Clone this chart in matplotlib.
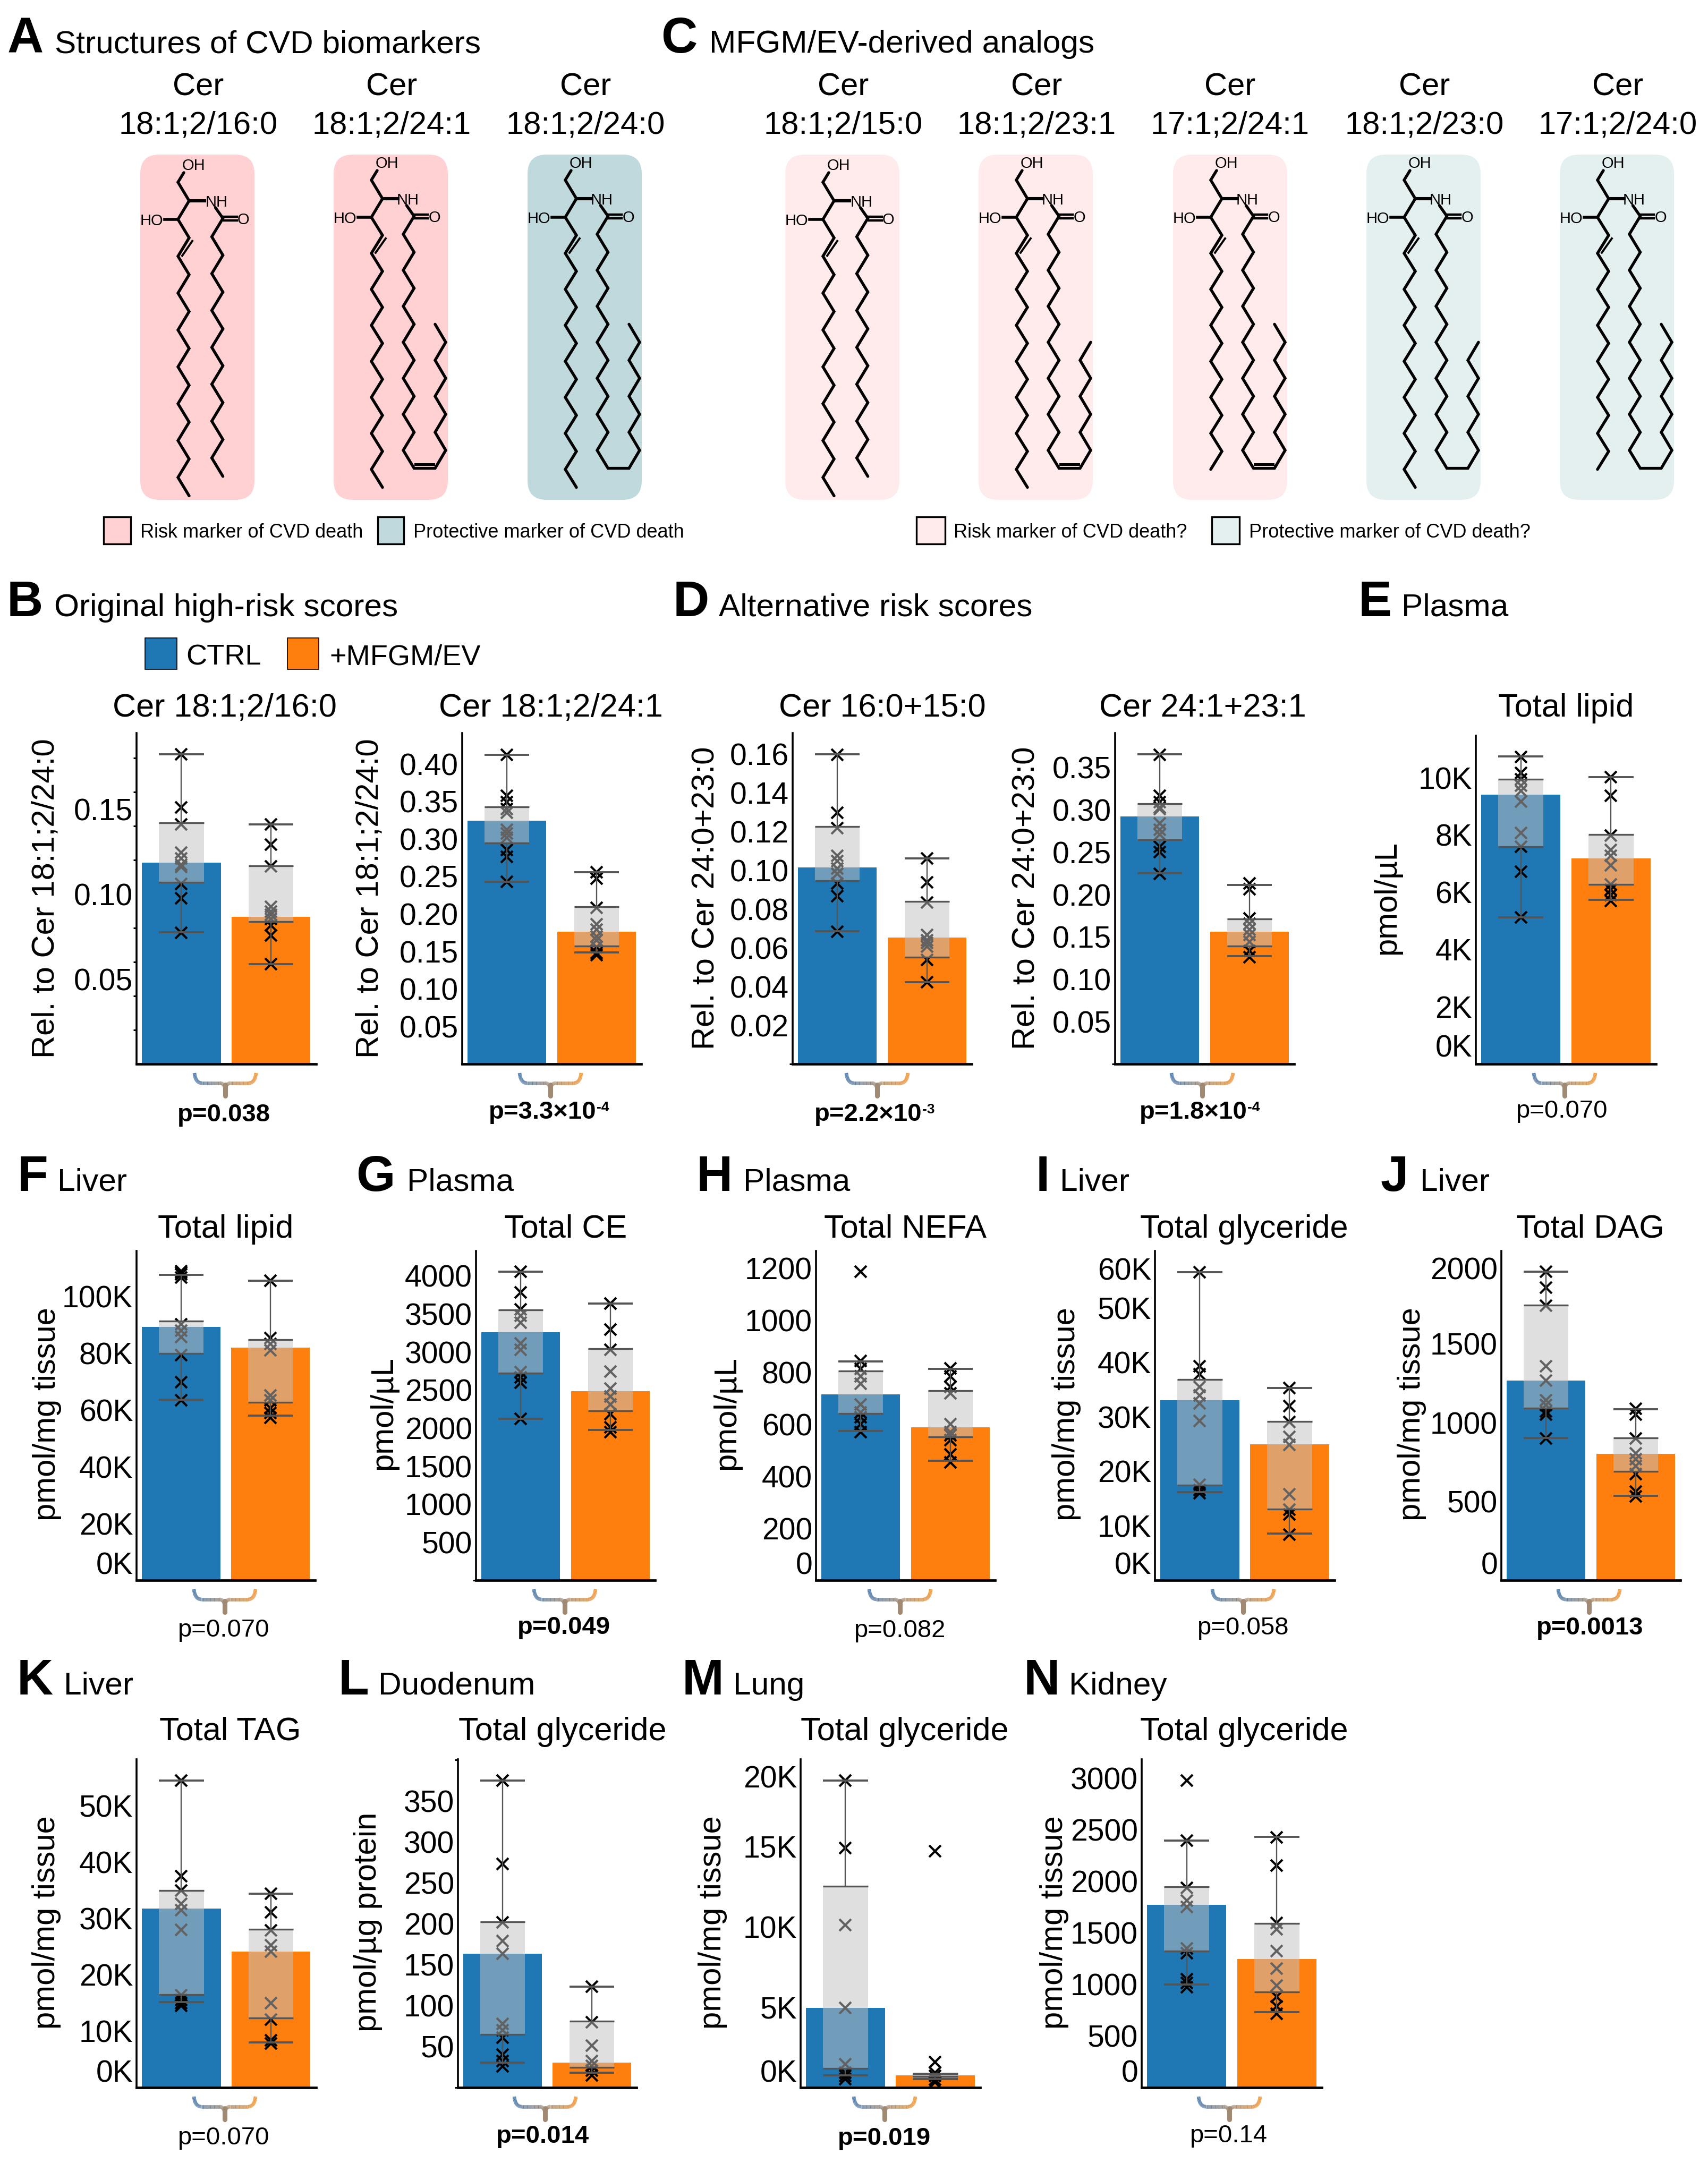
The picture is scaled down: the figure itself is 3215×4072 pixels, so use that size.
import numpy as np
import matplotlib
matplotlib.use('Agg')
import matplotlib.pyplot as plt
from matplotlib.collections import LineCollection
from matplotlib.colors import to_rgb
from matplotlib.patches import FancyBboxPatch, Rectangle
from matplotlib.transforms import ScaledTranslation

plt.rcParams['font.family'] = ['Liberation Sans', 'DejaVu Sans']

W, H = 3216, 4072
BLUE, ORANGE = '#1f77b4', '#ff7f0e'
LINE = '#555555'
groups = ['CTRL', '+MFGM/EV']

# bars: [ctrl, mfgm], box: [whisker low, q1, q3, whisker high]
b1_bars = [0.1184, 0.0866]
b1_ctrl_box = [0.0775, 0.1069, 0.1419, 0.1822]
b1_mfgm_box = [0.0587, 0.0838, 0.1166, 0.1411]
b1_ctrl = [0.1822, 0.1509, 0.1409, 0.1244, 0.1209, 0.1172, 0.1160, 0.1059, 0.0975, 0.0772]
b1_mfgm = [0.1408, 0.1291, 0.1162, 0.0925, 0.0897, 0.0878, 0.0853, 0.0816, 0.0756, 0.0586]

b2_bars = [0.324, 0.1766]
b2_ctrl_box = [0.243, 0.2947, 0.343, 0.4124]
b2_mfgm_box = [0.1488, 0.1574, 0.2096, 0.2555]
b2_ctrl = [0.4124, 0.3574, 0.349, 0.340, 0.335, 0.3124, 0.3077, 0.3014, 0.2856, 0.276, 0.2426]
b2_mfgm = [0.2555, 0.2474, 0.208, 0.1866, 0.1794, 0.170, 0.165, 0.1555, 0.148, 0.145]

d1_bars = [0.1015, 0.0652]
d1_ctrl_box = [0.0685, 0.0946, 0.1224, 0.1598]
d1_mfgm_box = [0.0422, 0.0552, 0.0839, 0.1061]
d1_ctrl = [0.1596, 0.1296, 0.1217, 0.1074, 0.1046, 0.1009, 0.0981, 0.0931, 0.0865, 0.0683]
d1_mfgm = [0.1059, 0.0937, 0.0833, 0.0667, 0.0639, 0.0624, 0.0606, 0.0537, 0.0422]

d2_bars = [0.2924, 0.1559]
d2_ctrl_box = [0.2254, 0.2644, 0.3072, 0.3657]
d2_mfgm_box = [0.1275, 0.1394, 0.1712, 0.2114]
d2_ctrl = [0.3653, 0.3165, 0.3093, 0.303, 0.3008, 0.2839, 0.2767, 0.2712, 0.2564, 0.25, 0.2242]
d2_mfgm = [0.2131, 0.2064, 0.1716, 0.1653, 0.1589, 0.1525, 0.1441, 0.1335, 0.1258]

e_bars = [9411, 7180]
e_ctrl_box = [5125, 7581, 9937, 10739]
e_mfgm_box = [5739, 6266, 8008, 10025]
e_ctrl = [10727, 10163, 9950, 9724, 9536, 9160, 8070, 7594, 6717, 5125]
e_mfgm = [10025, 9373, 7970, 7469, 7281, 6942, 6278, 6090, 5902, 5689]

f_bars = [89240, 81990]
f_ctrl_box = [63620, 79950, 91290, 107500]
f_mfgm_box = [57950, 62600, 84710, 105460]
f_ctrl = [108860, 108400, 107730, 106600, 90150, 87885, 85620, 79380, 69740, 63500]
f_mfgm = [105460, 85390, 83350, 81080, 65200, 63500, 60670, 58970, 57270]

g_bars = [3257, 2483]
g_ctrl_box = [2123, 2720, 3553, 4052]
g_mfgm_box = [1975, 2225, 3046, 3638]
g_ctrl = [4052, 3782, 3557, 3473, 3388, 3113, 3029, 2733, 2669, 2593, 2119]
g_mfgm = [3634, 3295, 3029, 2741, 2521, 2415, 2310, 2183, 2013, 1950]

h_bars = [714, 589]
h_ctrl_box = [574, 642, 804, 842]
h_mfgm_box = [459, 552, 729, 812]
h_ctrl = [1186, 843, 812, 785, 756, 676, 645, 626, 601, 570]
h_mfgm = [814, 785, 744, 719, 601, 570, 558, 540, 484, 453]

i_bars = [33040, 24940]
i_ctrl_box = [16190, 17490, 36820, 56560]
i_mfgm_box = [8570, 13060, 29200, 35280]
i_ctrl = [56560, 39300, 37820, 35460, 33980, 32500, 29250, 17550, 16550, 15960]
i_mfgm = [35340, 32030, 29080, 26300, 24820, 15780, 13000, 12115, 8390]

j_bars = [1265, 802]
j_ctrl_box = [904, 1090, 1743, 1955]
j_mfgm_box = [535, 690, 904, 1084]
j_ctrl = [1955, 1857, 1741, 1357, 1265, 1143, 1112, 1072, 1051, 898]
j_mfgm = [1088, 1051, 898, 806, 769, 725, 674, 561, 531]

k_bars = [31770, 24170]
k_ctrl_box = [15200, 16460, 35030, 54510]
k_mfgm_box = [8000, 12400, 28110, 34400]
k_ctrl = [54510, 37540, 34970, 32680, 31540, 28060, 16400, 15540, 14970, 14570]
k_mfgm = [34400, 31140, 27940, 25260, 24110, 14970, 12110, 8400, 7830]

l_bars = [163.7, 30.2]
l_ctrl_box = [30.2, 64.8, 202.5, 374.8]
l_mfgm_box = [18.4, 24.7, 80.9, 122.9]
l_ctrl = [374.8, 272.8, 201.4, 179, 163.3, 77.7, 69.9, 60.8, 40.4, 32.6, 25.9]
l_mfgm = [122.9, 79.7, 51, 32.6, 26.7, 20.8, 14.9]

m_bars = [4960, 760]
m_ctrl_box = [760, 1200, 12520, 19080]
m_mfgm_box = [540, 680, 860, 860]
m_ctrl = [19080, 14900, 10100, 4940, 1440, 940, 740, 540]
m_mfgm = [14700, 1580, 940, 740, 500, 340]

n_bars = [1772, 1248]
n_ctrl_box = [998, 1326, 1949, 2392]
n_mfgm_box = [730, 929, 1591, 2433]
n_ctrl = [2975, 2392, 1937, 1815, 1753, 1347, 1301, 1051, 1014, 973]
n_mfgm = [2423, 2152, 1597, 1535, 1322, 1154, 989, 880, 786, 717]

REL = 'Rel. to Cer 18:1;2/24:0'
REL2 = 'Rel. to Cer 24:0+23:0'
MGT = 'pmol/mg tissue'
ROW1, ROW2, ROW3 = (1380, 2003), (2355, 2975), (3311.5, 3930)

panels = [
    dict(box=(257, 594.5), row=ROW1, ymax=0.1947, bars=b1_bars, cb=b1_ctrl_box, mb=b1_mfgm_box, cp=b1_ctrl, mp=b1_mfgm,
         ticks=[0.02, 0.04, 0.06, 0.08, 0.10, 0.12, 0.14, 0.16, 0.18], lv=[0.05, 0.10, 0.15], ll=['0.05', '0.10', '0.15'],
         title='Cer 18:1;2/16:0', tx=423, tb=1349, yl=REL, ylx=86, yly=1691, p='p=0.038', bold=True, px=422, pb=2111, bx=424),
    dict(box=(870, 1207), row=ROW1, ymax=0.4412, bars=b2_bars, cb=b2_ctrl_box, mb=b2_mfgm_box, cp=b2_ctrl, mp=b2_mfgm,
         ticks=[0.05, 0.10, 0.15, 0.20, 0.25, 0.30, 0.35, 0.40], lv=[0.05, 0.10, 0.15, 0.20, 0.25, 0.30, 0.35, 0.40],
         ll=['0.05', '0.10', '0.15', '0.20', '0.25', '0.30', '0.35', '0.40'],
         title='Cer 18:1;2/24:1', tx=1037, tb=1349, yl=REL, ylx=696, yly=1691,
         p='p=3.3×10', sup='-4', bold=True, px=1038, pb=2106, bx=1036),
    dict(box=(1492, 1829), row=ROW1, ymax=0.1707, bars=d1_bars, cb=d1_ctrl_box, mb=d1_mfgm_box, cp=d1_ctrl, mp=d1_mfgm,
         ticks=[0, 0.02, 0.04, 0.06, 0.08, 0.10, 0.12, 0.14, 0.16], lv=[0.02, 0.04, 0.06, 0.08, 0.10, 0.12, 0.14, 0.16],
         ll=['0.02', '0.04', '0.06', '0.08', '0.10', '0.12', '0.14', '0.16'],
         title='Cer 16:0+15:0', tx=1661, tb=1349, yl=REL2, ylx=1328, yly=1691,
         p='p=2.2×10', sup='-3', bold=True, px=1651, pb=2110, bx=1651),
    dict(box=(2099, 2436), row=ROW1, ymax=0.3907, bars=d2_bars, cb=d2_ctrl_box, mb=d2_mfgm_box, cp=d2_ctrl, mp=d2_mfgm,
         ticks=[0, 0.05, 0.10, 0.15, 0.20, 0.25, 0.30, 0.35], lv=[0.05, 0.10, 0.15, 0.20, 0.25, 0.30, 0.35],
         ll=['0.05', '0.10', '0.15', '0.20', '0.25', '0.30', '0.35'],
         title='Cer 24:1+23:1', tx=2264, tb=1349, yl=REL2, ylx=1931, yly=1691,
         p='p=1.8×10', sup='-4', bold=True, px=2263, pb=2106, bx=2263),
    dict(box=(2778, 3117), row=(1385, 2003), ymax=11466, bars=e_bars, cb=e_ctrl_box, mb=e_mfgm_box, cp=e_ctrl, mp=e_mfgm,
         ticks=[0, 2000, 4000, 6000, 8000, 10000], lv=[0, 2000, 4000, 6000, 8000, 10000],
         ll=['0K', '2K', '4K', '6K', '8K', '10K'], lift={0: 34},
         title='Total lipid', tx=2948, tb=1349, yl='pmol/µL', ylx=2611, yly=1690, p='p=0.070', bold=False, px=2939, pb=2104, bx=2945),
    dict(box=(257, 593), row=ROW2, ymax=116000, bars=f_bars, cb=f_ctrl_box, mb=f_mfgm_box, cp=f_ctrl, mp=f_mfgm,
         ticks=[0, 20000, 40000, 60000, 80000, 100000], lv=[0, 20000, 40000, 60000, 80000, 100000],
         ll=['0K', '20K', '40K', '60K', '80K', '100K'], lift={0: 33},
         title='Total lipid', tx=425, tb=2330, yl=MGT, ylx=88, yly=2662, p='p=0.070', bold=False, px=420, pb=3081, bx=423),
    dict(box=(896, 1233), row=ROW2, ymax=4327, bars=g_bars, cb=g_ctrl_box, mb=g_mfgm_box, cp=g_ctrl, mp=g_mfgm,
         ticks=[0, 500, 1000, 1500, 2000, 2500, 3000, 3500, 4000], lv=[500, 1000, 1500, 2000, 2500, 3000, 3500, 4000],
         ll=['500', '1000', '1500', '2000', '2500', '3000', '3500', '4000'],
         title='Total CE', tx=1065, tb=2330, yl='pmol/µL', ylx=722, yly=2660, p='p=0.049', bold=True, px=1061, pb=3076, bx=1063),
    dict(box=(1536, 1873), row=ROW2, ymax=1266, bars=h_bars, cb=h_ctrl_box, mb=h_mfgm_box, cp=h_ctrl, mp=h_mfgm,
         ticks=[0, 200, 400, 600, 800, 1000, 1200], lv=[0, 200, 400, 600, 800, 1000, 1200],
         ll=['0', '200', '400', '600', '800', '1000', '1200'], lift={0: 33},
         title='Total NEFA', tx=1704, tb=2330, yl='pmol/µL', ylx=1368, yly=2660, p='p=0.082', bold=False, px=1693, pb=3082, bx=1694),
    dict(box=(2174, 2512), row=ROW2, ymax=60460, bars=i_bars, cb=i_ctrl_box, mb=i_mfgm_box, cp=i_ctrl, mp=i_mfgm,
         ticks=[0, 10000, 20000, 30000, 40000, 50000, 60000], lv=[0, 10000, 20000, 30000, 40000, 50000, 60000],
         ll=['0K', '10K', '20K', '30K', '40K', '50K', '60K'], lift={0: 33, 60000: -29},
         title='Total glyceride', tx=2342, tb=2330, yl=MGT, ylx=2008, yly=2662, p='p=0.058', bold=False, px=2339, pb=3077, bx=2340),
    dict(box=(2826, 3163), row=ROW2, ymax=2088, bars=j_bars, cb=j_ctrl_box, mb=j_mfgm_box, cp=j_ctrl, mp=j_mfgm,
         ticks=[0, 500, 1000, 1500, 2000], lv=[0, 500, 1000, 1500, 2000],
         ll=['0', '500', '1000', '1500', '2000'], lift={0: 33, 2000: -6},
         title='Total DAG', tx=2993, tb=2330, yl=MGT, ylx=2658, yly=2662, p='p=0.0013', bold=True, px=2993, pb=3077, bx=2991),
    dict(box=(257, 594.5), row=ROW3, ymax=58340, bars=k_bars, cb=k_ctrl_box, mb=k_mfgm_box, cp=k_ctrl, mp=k_mfgm,
         ticks=[0, 10000, 20000, 30000, 40000, 50000], lv=[0, 10000, 20000, 30000, 40000, 50000],
         ll=['0K', '10K', '20K', '30K', '40K', '50K'], lift={0: 32},
         title='Total TAG', tx=433, tb=3276, yl=MGT, ylx=88, yly=3619, p='p=0.070', bold=False, px=420, pb=4037, bx=423),
    dict(box=(862, 1198), row=ROW3, ymax=401, bars=l_bars, cb=l_ctrl_box, mb=l_mfgm_box, cp=l_ctrl, mp=l_mfgm,
         ticks=[0, 50, 100, 150, 200, 250, 300, 350, 400], lv=[50, 100, 150, 200, 250, 300, 350],
         ll=['50', '100', '150', '200', '250', '300', '350'],
         title='Total glyceride', tx=1059, tb=3276, yl='pmol/µg protein', ylx=692, yly=3618, p='p=0.014', bold=True, px=1022, pb=4034, bx=1026),
    dict(box=(1507, 1845), row=ROW3, ymax=20420, bars=m_bars, cb=m_ctrl_box, mb=m_mfgm_box, cp=m_ctrl, mp=m_mfgm,
         ticks=[0, 5000, 10000, 15000, 20000], lv=[0, 5000, 10000, 15000, 20000],
         ll=['0K', '5K', '10K', '15K', '20K'], lift={0: 32, 20000: -20},
         title='Total glyceride', tx=1703, tb=3276, yl=MGT, ylx=1342, yly=3619, p='p=0.019', bold=True, px=1665, pb=4038, bx=1665),
    dict(box=(2149, 2488), row=ROW3, ymax=3185, bars=n_bars, cb=n_ctrl_box, mb=n_mfgm_box, cp=n_ctrl, mp=n_mfgm,
         ticks=[0, 500, 1000, 1500, 2000, 2500, 3000], lv=[0, 500, 1000, 1500, 2000, 2500, 3000],
         ll=['0', '500', '1000', '1500', '2000', '2500', '3000'], lift={0: 32},
         title='Total glyceride', tx=2342, tb=3276, yl=MGT, ylx=1985, yly=3619, p='p=0.14', bold=False, px=2312, pb=4033, bx=2314),
]

# letter, letter x, heading, heading x, baseline
headings = [
    ('A', 14, 'Structures of CVD biomarkers', 103, 99),
    ('C', 1244, 'MFGM/EV-derived analogs', 1335, 99),
    ('B', 13, 'Original high-risk scores', 102, 1160),
    ('D', 1267, 'Alternative risk scores', 1353, 1160),
    ('E', 2557, 'Plasma', 2638, 1160),
    ('F', 33, 'Liver', 108, 2242),
    ('G', 670, 'Plasma', 766, 2242),
    ('H', 1311, 'Plasma', 1399, 2242),
    ('I', 1950, 'Liver', 1995, 2242),
    ('J', 2599, 'Liver', 2673, 2242),
    ('K', 32, 'Liver', 120, 3190),
    ('L', 637, 'Duodenum', 712, 3190),
    ('M', 1284, 'Lung', 1380, 3190),
    ('N', 1927, 'Kidney', 2012, 3190),
]

# species name, box left, label x, colour, sphingoid bonds, acyl carbons, cis double bond in fold
RISK, PROT, RISK_L, PROT_L = '#ffd1d3', '#c0d9dc', '#ffebec', '#e4f0f0'
lipids = [
    ('18:1;2/16:0', 264, 373, RISK, 15, 16, False),
    ('18:1;2/24:1', 628, 737, RISK, 15, 24, True),
    ('18:1;2/24:0', 993, 1102, PROT, 15, 24, False),
    ('18:1;2/15:0', 1478, 1587, RISK_L, 15, 15, False),
    ('18:1;2/23:1', 1842, 1951, RISK_L, 15, 23, True),
    ('17:1;2/24:1', 2208, 2315, RISK_L, 14, 24, True),
    ('18:1;2/23:0', 2572, 2681, PROT_L, 15, 23, False),
    ('17:1;2/24:0', 2936, 3045, PROT_L, 14, 24, False),
]

fig = plt.figure(figsize=(W / 100, H / 100), dpi=100, facecolor='white')
bg = fig.add_axes([0, 0, 1, 1], zorder=0)
bg.set_xlim(0, W)
bg.set_ylim(H, 0)
bg.axis('off')


def draw_lipid(x0, color, sph, acyl, cis):
    y0 = 291
    bg.add_patch(FancyBboxPatch((x0 + 36, y0 + 36), 215 - 72, 650 - 72, boxstyle='round,pad=36,rounding_size=36',
                                fc=color, ec='none', zorder=1))
    folded = acyl > 16
    dy = -4 if folded else 0
    step = 33.9 if folded else 34.7
    bond = dict(color='black', lw=3.9, solid_capstyle='round', solid_joinstyle='miter', zorder=2)
    lo, hi = x0 + 71, x0 + 92
    yc3 = y0 + 122 + dy
    # head group of the sphingoid base
    bg.plot([x0 + 82, lo, hi, lo], [y0 + 34 + dy, y0 + 52 + dy, y0 + 87 + dy, yc3], **bond)
    bg.plot([hi, x0 + 121], [y0 + 87 + dy] * 2, color='black', lw=4.4, zorder=2)
    bg.plot([lo, x0 + 46], [yc3, yc3], color='black', lw=4.0, zorder=2)
    xs = [lo if i % 2 == 0 else hi for i in range(sph + 1)]
    ys = [yc3 + step * i for i in range(sph + 1)]
    bg.plot(xs, ys, **bond)
    # trans double bond
    bg.plot([hi + 6, lo + 8], [ys[1] + 6, ys[2] - 1], color='black', lw=2.8, zorder=2)
    # acyl chain
    rlo, rhi = (x0 + 131, x0 + 151.5) if folded else (x0 + 134.6, x0 + 155.6)
    yc1 = y0 + 120 + dy
    down = min(acyl - 1, 14)
    cx = [rhi if i % 2 == 0 else rlo for i in range(down + 1)]
    cy = [yc1 + step * i for i in range(down + 1)]
    if folded:
        flo, fhi = x0 + 191, x0 + 211
        rest = acyl - 16
        cx += [flo + (fhi - flo) * (i % 2) for i in range(rest + 1)]
        cy += [cy[-1] - step * i for i in range(rest + 1)]
    bg.plot(cx, cy, **bond)
    if cis:
        bg.plot([rhi + 3, flo - 3], [cy[14] - 8, cy[14] - 8], color='black', lw=3.6, zorder=2)
    # amide
    bg.plot([rhi - 14, rhi], [yc1 - 20, yc1], **bond)
    bg.plot([rhi, rhi + 26], [yc1 - 3.5, yc1 - 3.5], color='black', lw=3.2, zorder=2)
    bg.plot([rhi + 2, rhi + 26], [yc1 + 3.5, yc1 + 3.5], color='black', lw=3.2, zorder=2)
    atoms = dict(fontsize=21, ha='center', va='center_baseline', zorder=3)
    bg.text(x0 + 100, y0 + 18 + dy, 'OH', **atoms)
    bg.text(rhi - 12, y0 + 87 + dy, 'NH', **atoms)
    bg.text(x0 + 21, yc3, 'HO', **atoms)
    bg.text(rhi + 38, yc1, 'O', **atoms)


def draw_brace(cx, y0):
    t = np.linspace(0, 1, 30)
    x1 = -58 * (1 - t) ** 2 + 2 * t * (1 - t) * (-56) + t ** 2 * (-44)
    y1 = 19 * (2 * t * (1 - t) + t ** 2)
    x2 = np.linspace(-44, -10, 30)
    y2 = np.full(30, 19.0)
    x3 = -10 * (1 - t) ** 2 + 2 * t * (1 - t) * (-2) + 0 * t ** 2
    y3 = 19 + 11 * t ** 2
    lx = np.concatenate([x1, x2, x3])
    ly = np.concatenate([y1, y2, y3])
    lx = np.concatenate([lx, -lx[::-1]])
    ly = np.concatenate([ly, ly[::-1]])
    a, b = np.array(to_rgb('#4f7cac')), np.array(to_rgb('#f0983a'))
    pts = np.column_stack([cx + lx, y0 + ly])
    segs = np.stack([pts[:-1], pts[1:]], axis=1)
    fr = ((lx[:-1] + lx[1:]) / 2 + 58) / 116
    cols = [tuple(a + (b - a) * f) for f in fr]
    bg.add_collection(LineCollection(segs, colors=cols, linewidths=4.8, capstyle='butt', zorder=2))
    bg.plot([cx, cx], [y0 + 22, y0 + 43], color=tuple((a + b) / 2), lw=6.5, solid_capstyle='round', zorder=2)


def draw_box(ax, x, stats):
    lo, q1, q3, hi = stats
    ax.bar(x, q3 - q1, bottom=q1, width=0.5, color=(0.76, 0.76, 0.76, 0.51), linewidth=0, zorder=3)
    ax.vlines([x, x], [lo, q3], [q1, hi], color=LINE, lw=1.7, zorder=4)
    ax.hlines([lo, hi], x - 0.25, x + 0.25, color=LINE, lw=2.8, zorder=4)
    ax.hlines([q1, q3], x - 0.25, x + 0.25, color=LINE, lw=2.4, zorder=4)


for p in panels:
    x0, x1 = p['box']
    top, bot = p['row']
    ax = fig.add_axes([x0 / W, 1 - bot / H, (x1 - x0) / W, (bot - top) / H], zorder=2)
    ax.patch.set_alpha(0)
    ax.set_xlim(-0.5, 1.5)
    ax.set_ylim(0, p['ymax'])
    ax.bar([0, 1], p['bars'], width=0.88, color=[BLUE, ORANGE], linewidth=0, zorder=1)
    for i, vals in enumerate([p['cp'], p['mp']]):
        ax.plot([i] * len(vals), vals, ls='none', marker='x', ms=16.5, mew=3.0, color='black', zorder=2, clip_on=False)
    draw_box(ax, 0, p['cb'])
    draw_box(ax, 1, p['mb'])
    ax.spines['top'].set_visible(False)
    ax.spines['right'].set_visible(False)
    ax.spines['left'].set_linewidth(2.6)
    ax.spines['bottom'].set_linewidth(3.4)
    ax.set_xticks([])
    ax.set_yticks(p['ticks'], minor=True)
    ax.set_yticks(p['lv'], p['ll'])
    ax.tick_params(axis='y', which='minor', length=4.4, width=2.2)
    ax.tick_params(axis='y', which='major', length=0, pad=5, labelsize=41)
    lift = p.get('lift', {})
    for v, tick in zip(p['lv'], ax.yaxis.get_major_ticks()):
        if v in lift:
            shift = ScaledTranslation(0, lift[v] / 100, fig.dpi_scale_trans)
            tick.label1.set_transform(tick.label1.get_transform() + shift)
    ax.set_title(p['title'], x=(p['tx'] - x0) / (x1 - x0), y=(bot - p['tb']) / (bot - top),
                 fontsize=44, va='baseline', ha='center', pad=0)
    ax.set_ylabel(p['yl'], fontsize=43, va='center', ha='center')
    ax.yaxis.set_label_coords((p['ylx'] - x0) / (x1 - x0), (bot - p['yly']) / (bot - top))
    weight = 'bold' if p['bold'] else 'normal'
    if 'sup' in p:
        bg.text(p['px'] + 85, p['pb'], p['p'], fontsize=34, ha='right', va='baseline', fontweight=weight)
        bg.text(p['px'] + 85, p['pb'] - 14, p['sup'], fontsize=19, ha='left', va='baseline', fontweight=weight)
    else:
        bg.text(p['px'], p['pb'], p['p'], fontsize=34, ha='center', va='baseline', fontweight=weight)
    draw_brace(p['bx'], {ROW1[1]: 2020, ROW2[1]: 2992, ROW3[1]: 3947}[bot])

for letter, lx, head, hx, base in headings:
    bg.text(lx, base, letter, fontsize=68, fontweight='bold', ha='left', va='baseline')
    bg.text(hx, base, head, fontsize=43.5, ha='left', va='baseline')

for name, bx0, cx, color, sph, acyl, cis in lipids:
    bg.text(cx, 179, 'Cer', fontsize=43, ha='center', va='baseline')
    bg.text(cx, 251, name, fontsize=43, ha='center', va='baseline')
    draw_lipid(bx0, color, sph, acyl, cis)

# species legends
for x, w, col, txt, tx in [(195, 51, RISK, 'Risk marker of CVD death', 264),
                           (711, 49, PROT, 'Protective marker of CVD death', 778),
                           (1725, 54, RISK_L, 'Risk marker of CVD death?', 1795),
                           (2281, 52, PROT_L, 'Protective marker of CVD death?', 2351)]:
    bg.add_patch(Rectangle((x, 973), w, 51, fc=col, ec='black', lw=2.4, zorder=2))
    bg.text(tx, 1012, txt, fontsize=26, ha='left', va='baseline')

# group legend
for x, w, col, txt, tx in [(273, 60, BLUE, groups[0], 350), (541, 59, ORANGE, groups[1], 620)]:
    bg.add_patch(Rectangle((x, 1201), w, 59, fc=col, ec='black', lw=1.2, zorder=2))
    bg.text(tx, 1251, txt, fontsize=39, ha='left', va='baseline')

fig.savefig('out.png', dpi=100)
